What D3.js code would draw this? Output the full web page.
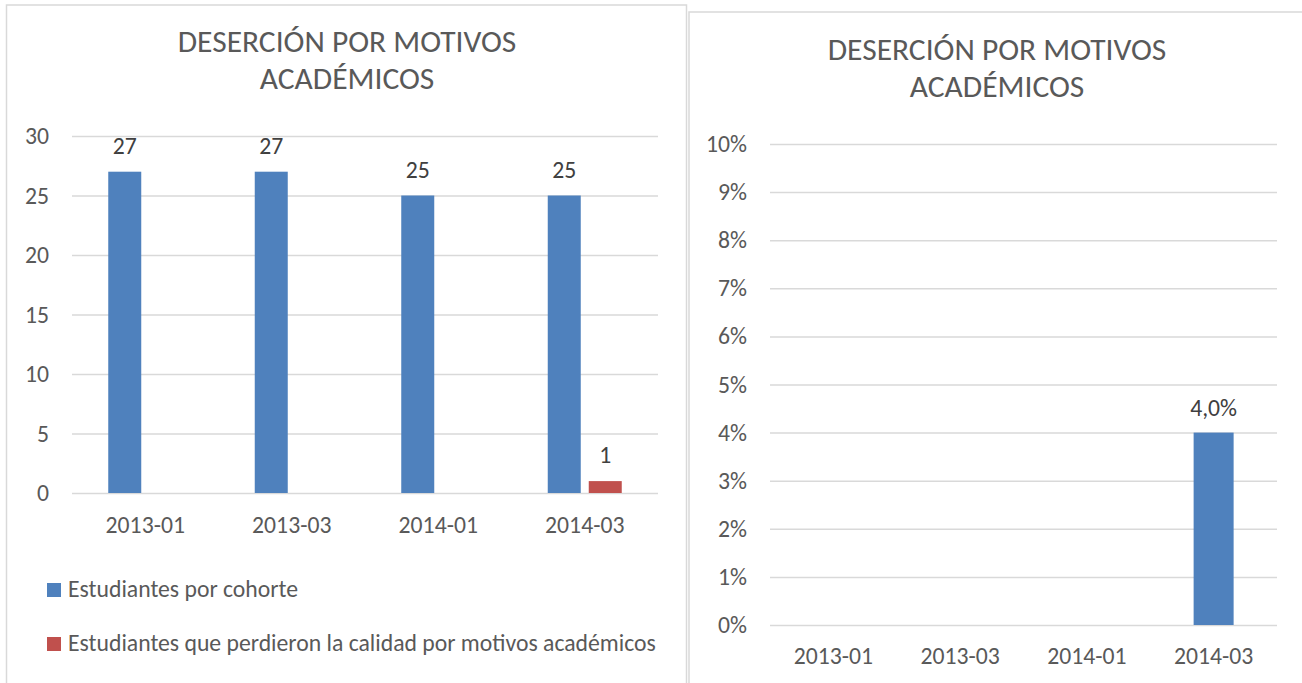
<!DOCTYPE html>
<html>
<head>
<meta charset="utf-8">
<script src="https://cdn.jsdelivr.net/npm/d3@7"></script>
<style>
  body { margin: 0; background: #fff; }
  text { font-family: Carlito, Lato, sans-serif; }
</style>
</head>
<body>
<div id="chart"></div>
<script>
// data
const categories = ['2013-01', '2013-03', '2014-01', '2014-03'];
const seriesNames = ['Estudiantes por cohorte', 'Estudiantes que perdieron la calidad por motivos académicos'];
const estudiantesPorCohorte = [27, 27, 25, 25];
const perdieronCalidad = [0, 0, 0, 1];
const porcentajeDesercion = [null, null, null, 0.04];
const leftTicks = [0, 5, 10, 15, 20, 25, 30];
const rightTicks = [0, 0.01, 0.02, 0.03, 0.04, 0.05, 0.06, 0.07, 0.08, 0.09, 0.10];
const titleLines = ['DESERCIÓN POR MOTIVOS', 'ACADÉMICOS'];
const colors = ['#4f81bd', '#c0504d'];

const labelColor = '#595959';
const gridColor = '#d9d9d9';
const fontSize = 23.7;

const svg = d3.select('#chart').append('svg')
  .attr('width', 1302)
  .attr('height', 683);

// panel frames
svg.append('rect')
  .attr('x', 6.5).attr('y', 5)
  .attr('width', 680).attr('height', 700)
  .attr('fill', 'none').attr('stroke', gridColor).attr('stroke-width', 1.5);
svg.append('rect')
  .attr('x', 689).attr('y', 12)
  .attr('width', 640).attr('height', 700)
  .attr('fill', 'none').attr('stroke', gridColor).attr('stroke-width', 1.5);

function addTitle(cx, y0) {
  svg.append('text')
    .attr('x', cx)
    .attr('text-anchor', 'middle')
    .attr('fill', labelColor)
    .style('font-size', '31.5px')
    .selectAll('tspan')
    .data(titleLines)
    .enter().append('tspan')
    .attr('x', cx)
    .attr('y', function(d, i) { return y0 + i * 37; })
    .text(function(d) { return d; });
}

function styleAxis(g) {
  g.select('.domain').remove();
  g.selectAll('.tick line').attr('stroke', gridColor).attr('stroke-width', 1.5);
  g.selectAll('.tick text')
    .attr('fill', labelColor)
    .style('font-size', fontSize + 'px')
    .style('font-family', 'Carlito, Lato, sans-serif');
}

// ---------- left chart: grouped bars ----------
addTitle(347, 52);

const xL = d3.scaleBand().domain(categories).range([72, 658]);
const xL1 = d3.scaleBand().domain(seriesNames).range([0, 74]).paddingInner(8 / 41);
const yL = d3.scaleLinear().domain([0, 30]).range([493, 136]);

svg.append('g')
  .attr('transform', 'translate(72,0)')
  .call(d3.axisLeft(yL).tickValues(leftTicks).tickSize(-586).tickPadding(23))
  .call(styleAxis);

svg.append('g')
  .attr('transform', 'translate(0,493)')
  .call(d3.axisBottom(xL).tickSize(0).tickPadding(23))
  .call(styleAxis);

const leftSeries = [estudiantesPorCohorte, perdieronCalidad];
leftSeries.forEach(function(values, s) {
  const rows = categories.map(function(c, i) { return { cat: c, v: values[i] }; });
  svg.append('g').selectAll('rect')
    .data(rows.filter(function(d) { return d.v > 0; }))
    .enter().append('rect')
    .attr('x', function(d) { return xL(d.cat) + xL.bandwidth() / 2 - 37 + xL1(seriesNames[s]); })
    .attr('y', function(d) { return yL(d.v); })
    .attr('width', xL1.bandwidth())
    .attr('height', function(d) { return yL(0) - yL(d.v); })
    .attr('fill', colors[s]);

  svg.append('g').selectAll('text')
    .data(rows.filter(function(d) { return d.v > 0; }))
    .enter().append('text')
    .attr('x', function(d) { return xL(d.cat) + xL.bandwidth() / 2 - 37 + xL1(seriesNames[s]) + xL1.bandwidth() / 2; })
    .attr('y', function(d) { return yL(d.v) - 18; })
    .attr('text-anchor', 'middle')
    .attr('fill', '#404040')
    .style('font-size', fontSize + 'px')
    .text(function(d) { return d.v; });
});

// legend
const legend = svg.append('g').selectAll('g')
  .data(seriesNames)
  .enter().append('g')
  .attr('transform', function(d, i) { return 'translate(47,' + (583 + i * 54) + ')'; });
legend.append('rect')
  .attr('width', 14).attr('height', 14)
  .attr('fill', function(d, i) { return colors[i]; });
legend.append('text')
  .attr('x', 21).attr('y', 14)
  .attr('fill', labelColor)
  .style('font-size', fontSize + 'px')
  .text(function(d) { return d; });

// ---------- right chart: percentage ----------
addTitle(997, 60);

const xR = d3.scaleBand().domain(categories).range([770, 1277]);
const yR = d3.scaleLinear().domain([0, 0.10]).range([625, 144]);
const barW = 40;

svg.append('g')
  .attr('transform', 'translate(770,0)')
  .call(d3.axisLeft(yR).tickValues(rightTicks).tickSize(-507).tickPadding(23)
    .tickFormat(d3.format('.0%')))
  .call(styleAxis);

svg.append('g')
  .attr('transform', 'translate(0,625)')
  .call(d3.axisBottom(xR).tickSize(0).tickPadding(22))
  .call(styleAxis);

const rightRows = categories.map(function(c, i) { return { cat: c, v: porcentajeDesercion[i] }; })
  .filter(function(d) { return d.v != null; });

svg.append('g').selectAll('rect')
  .data(rightRows)
  .enter().append('rect')
  .attr('x', function(d) { return xR(d.cat) + xR.bandwidth() / 2 - barW / 2; })
  .attr('y', function(d) { return yR(d.v); })
  .attr('width', barW)
  .attr('height', function(d) { return yR(0) - yR(d.v); })
  .attr('fill', colors[0]);

svg.append('g').selectAll('text')
  .data(rightRows)
  .enter().append('text')
  .attr('x', function(d) { return xR(d.cat) + xR.bandwidth() / 2; })
  .attr('y', function(d) { return yR(d.v) - 17; })
  .attr('text-anchor', 'middle')
  .attr('fill', '#404040')
  .style('font-size', fontSize + 'px')
  .text(function(d) { return d3.format('.1%')(d.v).replace('.', ','); });
</script>
</body>
</html>
